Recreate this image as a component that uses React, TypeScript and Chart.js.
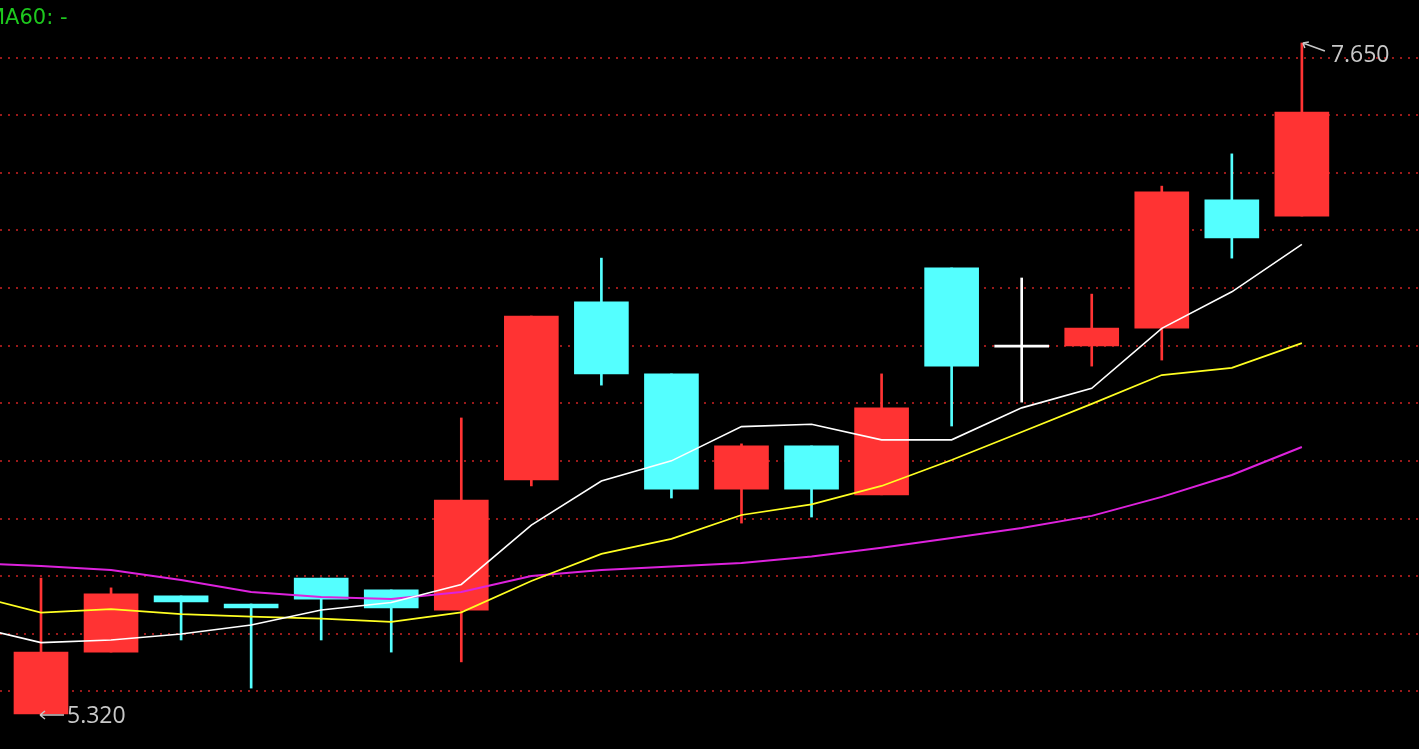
import React, { useEffect, useRef } from 'react';
import { Chart, registerables } from 'chart.js';

Chart.register(...registerables);

// ---- data ----
const candleIndex = [0, 1, 2, 3, 4, 5, 6, 7, 8, 9, 10, 11, 12, 13, 14, 15, 16, 17, 18];
const opens = [5.320, 5.535, 5.730, 5.702, 5.792, 5.751, 5.681, 6.133, 6.751, 6.501, 6.101, 6.251, 6.081, 6.869, 6.594, 6.598, 6.660, 7.105, 7.049];
const highs = [5.792, 5.758, 5.730, 5.702, 5.792, 5.751, 6.348, 6.702, 6.903, 6.501, 6.258, 6.251, 6.501, 6.869, 6.834, 6.778, 7.153, 7.265, 7.650];
const lows = [5.320, 5.535, 5.577, 5.410, 5.577, 5.535, 5.501, 6.112, 6.462, 6.070, 5.983, 6.004, 6.081, 6.320, 6.403, 6.528, 6.549, 6.903, 7.049];
const closes = [5.535, 5.737, 5.709, 5.688, 5.719, 5.688, 6.063, 6.702, 6.501, 6.101, 6.251, 6.101, 6.383, 6.528, 6.594, 6.660, 7.133, 6.973, 7.410];

// moving averages start one bar before the first visible candle
const maStartIndex = -1;
const ma5 = [5.626, 5.568, 5.577, 5.598, 5.629, 5.681, 5.707, 5.770, 5.976, 6.129, 6.199, 6.318, 6.326, 6.272, 6.272, 6.383, 6.451, 6.659, 6.786, 6.951];
const ma10 = [5.735, 5.672, 5.684, 5.667, 5.658, 5.651, 5.640, 5.673, 5.782, 5.876, 5.928, 6.011, 6.048, 6.112, 6.202, 6.299, 6.397, 6.497, 6.522, 6.608];
const ma60 = [5.844, 5.834, 5.820, 5.785, 5.744, 5.726, 5.719, 5.744, 5.799, 5.820, 5.832, 5.844, 5.867, 5.897, 5.931, 5.966, 6.008, 6.074, 6.150, 6.247];

const titleText = 'MA60: -';
const maxLabel = '7.650';
const minLabel = '5.320';

// ---- view ----
const Y_MIN = 5.1985;
const Y_MAX = 7.7993;
const X_MIN = -0.5853;
const X_MAX = 19.672;
const GRID_DIVISIONS = 13;

const RED = '#ff3333';
const CYAN = '#54ffff';
const WHITE = '#ffffff';

const candleColor = (i: number) =>
  closes[i] > opens[i] ? RED : closes[i] < opens[i] ? CYAN : WHITE;

const annotationPlugin = {
  id: 'kAnnotations',
  afterDraw(chart: any) {
    const ctx = chart.ctx;
    const xs = chart.scales.x;
    const ys = chart.scales.y;
    ctx.save();
    // title
    ctx.font = '21px "DejaVu Sans"';
    ctx.fillStyle = '#1ec81e';
    ctx.textBaseline = 'alphabetic';
    ctx.textAlign = 'left';
    ctx.fillText(titleText, -13, 24);

    ctx.strokeStyle = '#c8c8c8';
    ctx.fillStyle = '#c8c8c8';
    ctx.lineWidth = 1.5;
    ctx.font = '23px "Open Sans"';
    ctx.textBaseline = 'middle';

    // max annotation
    let hi = 0;
    highs.forEach((v, i) => { if (v > highs[hi]) hi = i; });
    const hx = xs.getPixelForValue(candleIndex[hi]) + 1;
    const hy = ys.getPixelForValue(highs[hi]);
    ctx.beginPath();
    ctx.moveTo(hx, hy);
    ctx.lineTo(hx + 22, hy + 8);
    ctx.moveTo(hx, hy);
    ctx.lineTo(hx + 6, hy - 1);
    ctx.moveTo(hx, hy);
    ctx.lineTo(hx + 2, hy + 5);
    ctx.stroke();
    ctx.fillText(maxLabel, hx + 28, hy + 12);

    // min annotation
    let lo = 0;
    lows.forEach((v, i) => { if (v < lows[lo]) lo = i; });
    const lx = xs.getPixelForValue(candleIndex[lo]) - 1;
    const ly = ys.getPixelForValue(lows[lo]) + 1;
    ctx.beginPath();
    ctx.moveTo(lx, ly);
    ctx.lineTo(lx + 24, ly);
    ctx.moveTo(lx, ly);
    ctx.lineTo(lx + 5, ly - 4);
    ctx.moveTo(lx, ly);
    ctx.lineTo(lx + 5, ly + 4);
    ctx.stroke();
    ctx.fillText(minLabel, lx + 27, ly + 1);
    ctx.restore();
  },
};

export default function App() {
  const canvasRef = useRef<HTMLCanvasElement | null>(null);

  useEffect(() => {
    if (!canvasRef.current) return;
    const maLine = (values: number[], color: string, width: number, order: number) => ({
      type: 'line' as const,
      data: values.map((v, k) => ({ x: k + maStartIndex, y: v })),
      borderColor: color,
      borderWidth: width,
      pointRadius: 0,
      tension: 0,
      fill: false,
      order,
    });

    const chart = new Chart(canvasRef.current, {
      type: 'bar',
      data: {
        datasets: [
          maLine(ma5, '#ffffff', 1.6, 0) as any,
          maLine(ma10, '#ffff22', 1.7, 1) as any,
          maLine(ma60, '#dd22dd', 2, 2) as any,
          {
            type: 'bar',
            data: candleIndex.map((i) => ({ x: i, y: [opens[i], closes[i]] })),
            backgroundColor: candleIndex.map(candleColor),
            borderWidth: 0,
            barThickness: 54,
            minBarLength: 2,
            grouped: false,
            order: 3,
          } as any,
          {
            type: 'bar',
            data: candleIndex.map((i) => ({ x: i, y: [lows[i], highs[i]] })),
            backgroundColor: candleIndex.map(candleColor),
            borderWidth: 0,
            barThickness: 2,
            grouped: false,
            order: 4,
          } as any,
        ],
      },
      options: {
        animation: false,
        responsive: true,
        maintainAspectRatio: false,
        layout: { padding: 0 },
        plugins: { legend: { display: false }, tooltip: { enabled: false } },
        events: [],
        scales: {
          x: { type: 'linear', min: X_MIN, max: X_MAX, offset: false, display: false },
          y: {
            type: 'linear',
            min: Y_MIN,
            max: Y_MAX,
            display: true,
            ticks: { display: false },
            afterBuildTicks: (scale: any) => {
              const step = (Y_MAX - Y_MIN) / GRID_DIVISIONS;
              scale.ticks = Array.from({ length: GRID_DIVISIONS - 1 }, (_, k) => ({ value: Y_MIN + (k + 1) * step }));
            },
            grid: { color: '#9a1a1a', lineWidth: 2, drawTicks: false },
            border: { display: false, dash: [2, 6] },
          },
        },
      } as any,
      plugins: [annotationPlugin],
    });
    return () => chart.destroy();
  }, []);

  return (
    <div style={{ position: 'fixed', left: 0, top: 0, width: '100vw', height: '100vh', background: '#000' }}>
      <canvas ref={canvasRef} />
    </div>
  );
}
